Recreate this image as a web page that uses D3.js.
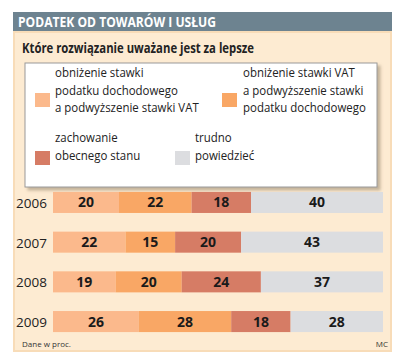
<!DOCTYPE html>
<html><head><meta charset="utf-8">
<script src="https://cdn.jsdelivr.net/npm/d3@7"></script>
<style>body{margin:0;background:#fff}svg{display:block}</style>
</head><body>
<script>
const years = ["2006","2007","2008","2009"];
const seriesNames = [
  ["obniżenie stawki","podatku dochodowego","a podwyższenie stawki VAT"],
  ["obniżenie stawki VAT","a podwyższenie stawki","podatku dochodowego"],
  ["zachowanie","obecnego stanu"],
  ["trudno","powiedzieć"]
];
const s1 = [20,22,19,26];
const s2 = [22,15,20,28];
const s3 = [18,20,24,18];
const s4 = [40,43,37,28];
const colors = ["#fbb98c","#f9a765","#d67c65","#dcdde0"];

const W=403,H=357;
const svg=d3.select("body").append("svg").attr("width",W).attr("height",H);
const font="'Open Sans', 'DejaVu Sans Condensed', sans-serif";

const defs=svg.append("defs");
const f=defs.append("filter").attr("id","sh").attr("x","-5%").attr("y","-5%").attr("width","115%").attr("height","120%");
f.append("feDropShadow").attr("dx",3).attr("dy",3).attr("stdDeviation",1.5).attr("flood-color","#8a7a60").attr("flood-opacity",0.5);

svg.append("rect").attr("x",13).attr("y",31).attr("width",379).attr("height",321).attr("fill","#fdebd2");
svg.append("rect").attr("x",14).attr("y",32).attr("width",377).attr("height",319).attr("fill","none").attr("stroke","#f8dcb8").attr("stroke-width",2);
svg.append("rect").attr("x",13).attr("y",12).attr("width",379).attr("height",19).attr("fill","#6d8390");
svg.append("text").attr("x",18).attr("y",27).attr("fill","#fff").attr("font-family",font).attr("font-weight","bold").attr("font-size",14.5).attr("textLength",198).attr("lengthAdjust","spacingAndGlyphs").text("PODATEK OD TOWARÓW I USŁUG");
svg.append("text").attr("x",22).attr("y",53).attr("fill","#222").attr("font-family",font).attr("font-weight","bold").attr("font-size",13.5).attr("textLength",232).attr("lengthAdjust","spacingAndGlyphs").text("Które rozwiązanie uważane jest za lepsze");

svg.append("rect").attr("x",25).attr("y",63).attr("width",352).attr("height",124).attr("fill","#fff").attr("stroke","#9a9a9a").attr("stroke-width",1).attr("filter","url(#sh)");
const legPos=[{sx:35,sy:93,tx:55,ty:77},{sx:222,sy:93,tx:243,ty:77},{sx:35,sy:151,tx:55,ty:142},{sx:175,sy:151,tx:195,ty:142}];
const leg=svg.append("g").selectAll("g").data(seriesNames).join("g");
leg.append("rect").attr("x",(d,i)=>legPos[i].sx).attr("y",(d,i)=>legPos[i].sy).attr("width",15).attr("height",14).attr("fill",(d,i)=>colors[i]);
leg.each(function(d,i){
  const g=d3.select(this);
  d.forEach((line,j)=>{
    const t=g.append("text").attr("x",legPos[i].tx).attr("y",legPos[i].ty+j*17.5).attr("font-family",font).attr("font-size",13).attr("fill","#222").text(line);
    const w=t.node().getComputedTextLength();
    t.attr("textLength",w*0.88).attr("lengthAdjust","spacingAndGlyphs");
  });
});

const data=years.map((y,i)=>({year:y,vals:[s1[i],s2[i],s3[i],s4[i]]}));
const x=d3.scaleLinear().domain([0,100]).range([53,383]);
const y=d3.scaleBand().domain(years).range([182,342]).paddingInner(0.47).paddingOuter(0.25);
const rows=svg.append("g").selectAll("g").data(data).join("g");
rows.each(function(d){
  const g=d3.select(this);
  let cum=0;
  d.vals.forEach((v,k)=>{
    const x0=x(cum),x1=x(cum+v);
    g.append("rect").attr("x",x0).attr("y",y(d.year)).attr("width",x1-x0).attr("height",y.bandwidth()).attr("fill",colors[k]);
    g.append("text").attr("x",(x0+x1)/2).attr("y",y(d.year)+y.bandwidth()/2+5).attr("text-anchor","middle").attr("font-family",font).attr("font-weight","bold").attr("font-size",14).attr("fill","#1a1a1a").text(v);
    cum+=v;
  });
});
const yAxis=d3.axisLeft(y).tickSize(0).tickPadding(4);
const ag=svg.append("g").attr("transform","translate(51,0)").call(yAxis);
ag.select(".domain").remove();
ag.selectAll("text").attr("font-family",font).attr("font-size",13.5).attr("fill","#222").attr("dy","0.4em");

svg.append("text").attr("x",22).attr("y",347).attr("font-family",font).attr("font-size",8).attr("fill","#333").text("Dane w proc.");
svg.append("text").attr("x",388).attr("y",347).attr("text-anchor","end").attr("font-family",font).attr("font-size",8).attr("fill","#333").text("MC");
</script>
</body></html>
